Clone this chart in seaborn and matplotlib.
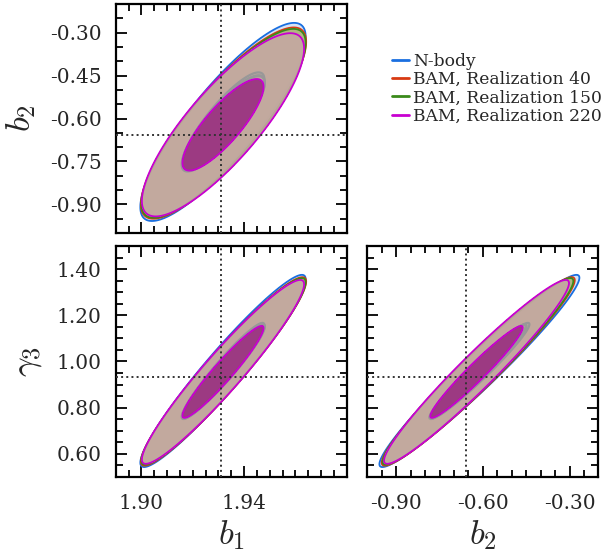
import numpy as np
import matplotlib
matplotlib.use("Agg")
import matplotlib.pyplot as plt
from matplotlib.lines import Line2D
from matplotlib.ticker import MultipleLocator, FixedLocator, FormatStrFormatter
import seaborn as sns

# Styl
sns.set_theme(style="ticks")
plt.rcParams['font.family'] = ['DejaVu Serif']
plt.rcParams['mathtext.fontset'] = 'cm'

# --- dane ---
labels = ["N-body", "BAM, Realization 40", "BAM, Realization 150", "BAM, Realization 220"]
colors = ["#1a6fe0", "#d83a12", "#3a8a1a", "#c800d0"]
fills = ["#c9dcf2", "#efc9b8", "#9fae6a", "#c4a8a2"]

# średnie (b1, b2, gamma3)
mean_b1 = [1.9318, 1.9320, 1.9320, 1.9318]
mean_b2 = [-0.612, -0.616, -0.617, -0.622]
mean_g3 = [0.959, 0.957, 0.957, 0.955]
# szerokości (1 sigma)
sig_b1 = [0.0161, 0.0161, 0.0160, 0.0158]
sig_b2 = [0.173, 0.167, 0.165, 0.160]
sig_g3 = [0.208, 0.204, 0.202, 0.199]
# korelacje
rho_b1b2 = [0.86, 0.85, 0.85, 0.83]
rho_b1g3 = [0.955, 0.955, 0.955, 0.952]
rho_b2g3 = [0.970, 0.968, 0.968, 0.965]

# wartości referencyjne (linie kropkowane)
ref_b1 = 1.931
ref_b2 = -0.658
ref_g3 = 0.935

# podpisy osi
b1_ticks = [1.90, 1.94]
b2_ticks_left = [-0.90, -0.75, -0.60, -0.45, -0.30]
b2_ticks_bottom = [-0.90, -0.60, -0.30]
g3_ticks = [0.60, 0.80, 1.00, 1.20, 1.40]

levels_r2 = [1.0, 4.0]  # kontury 1 i 2 sigma

fig = plt.figure(figsize=(6.01, 5.54), dpi=100)
ax_tl = fig.add_axes([0.1925, 0.5794, 0.3844, 0.4134])
ax_bl = fig.add_axes([0.1925, 0.139, 0.3844, 0.417])
ax_br = fig.add_axes([0.6111, 0.139, 0.3847, 0.417])


def draw_pair(ax, mx, my, sx, sy, rho, xlim, ylim):
    gx = np.linspace(xlim[0], xlim[1], 400)
    gy = np.linspace(ylim[0], ylim[1], 400)
    X, Y = np.meshgrid(gx, gy)
    r2s = []
    for i in range(len(labels)):
        dx = (X - mx[i]) / sx[i]
        dy = (Y - my[i]) / sy[i]
        r2s.append((dx**2 - 2 * rho[i] * dx * dy + dy**2) / (1 - rho[i]**2))
    # zewnętrzne kontury
    for i, r2 in enumerate(r2s):
        a = 0.9 if i == 3 else 0.75
        ax.contourf(X, Y, r2, levels=[-1, levels_r2[1]], colors=[fills[i]], alpha=a, zorder=2 + i)
        ax.contour(X, Y, r2, levels=[levels_r2[1]], colors=[colors[i]], linewidths=1.3, zorder=2 + i)
    # wewnętrzne kontury
    for i, r2 in enumerate(r2s):
        if i < 3:
            ax.contour(X, Y, r2, levels=[levels_r2[0]], colors=["#989898"], linewidths=1.6, zorder=7)
        else:
            ax.contourf(X, Y, r2, levels=[-1, levels_r2[0]], colors=["#9c3a82"], alpha=1.0, zorder=8)
            ax.contour(X, Y, r2, levels=[levels_r2[0]], colors=[colors[i]], linewidths=1.3, zorder=8)
    ax.set_xlim(xlim)
    ax.set_ylim(ylim)


b1_lim = (1.89, 1.98)
b2_lim = (-1.0, -0.2)
g3_lim = (0.5, 1.5)

draw_pair(ax_tl, mean_b1, mean_b2, sig_b1, sig_b2, rho_b1b2, b1_lim, b2_lim)
draw_pair(ax_bl, mean_b1, mean_g3, sig_b1, sig_g3, rho_b1g3, b1_lim, g3_lim)
draw_pair(ax_br, mean_b2, mean_g3, sig_b2, sig_g3, rho_b2g3, b2_lim, g3_lim)

# linie referencyjne
for ax, vx, hy in ((ax_tl, ref_b1, ref_b2), (ax_bl, ref_b1, ref_g3), (ax_br, ref_b2, ref_g3)):
    ax.axvline(vx, color="#333333", ls=":", lw=1.4, zorder=10)
    ax.axhline(hy, color="#333333", ls=":", lw=1.4, zorder=10)

# osie i ticki
for ax in (ax_tl, ax_bl, ax_br):
    for s in ax.spines.values():
        s.set_linewidth(1.6)
        s.set_color("black")
    ax.tick_params(which="both", direction="in", top=True, right=True, color="black", width=1.3)
    ax.tick_params(which="major", length=8, labelsize=14.5)
    ax.tick_params(which="minor", length=5)
    ax.tick_params(axis="y", which="major", pad=10)
    ax.tick_params(axis="x", which="major", pad=12)

fmt = FormatStrFormatter("%.2f")

ax_tl.xaxis.set_major_locator(FixedLocator(b1_ticks))
ax_tl.xaxis.set_minor_locator(MultipleLocator(0.005))
ax_tl.set_xticklabels([])
ax_tl.yaxis.set_major_locator(FixedLocator(b2_ticks_left))
ax_tl.yaxis.set_minor_locator(MultipleLocator(0.05))
ax_tl.yaxis.set_major_formatter(fmt)

ax_bl.xaxis.set_major_locator(FixedLocator(b1_ticks))
ax_bl.xaxis.set_minor_locator(MultipleLocator(0.005))
ax_bl.xaxis.set_major_formatter(fmt)
ax_bl.yaxis.set_major_locator(FixedLocator(g3_ticks))
ax_bl.yaxis.set_minor_locator(MultipleLocator(0.05))
ax_bl.yaxis.set_major_formatter(fmt)

ax_br.xaxis.set_major_locator(FixedLocator(b2_ticks_bottom))
ax_br.xaxis.set_minor_locator(MultipleLocator(0.05))
ax_br.xaxis.set_major_formatter(fmt)
ax_br.yaxis.set_major_locator(FixedLocator(g3_ticks))
ax_br.yaxis.set_minor_locator(MultipleLocator(0.05))
ax_br.set_yticklabels([])

ax_tl.set_ylabel(r"$b_2$", fontsize=25, labelpad=9)
ax_bl.set_ylabel(r"$\gamma_3$", fontsize=25, labelpad=9)
ax_bl.set_xlabel(r"$b_1$", fontsize=25, labelpad=4)
ax_br.set_xlabel(r"$b_2$", fontsize=25, labelpad=4)

handles = [Line2D([0], [0], color=c, lw=2) for c in colors]
fig.legend(handles, labels, loc="upper left", bbox_to_anchor=(0.652, 0.905),
           frameon=False, fontsize=12.3, handlelength=1.0, handletextpad=0.25,
           labelspacing=0.08, borderpad=0, borderaxespad=0)

fig.savefig("out.png", dpi=100)
